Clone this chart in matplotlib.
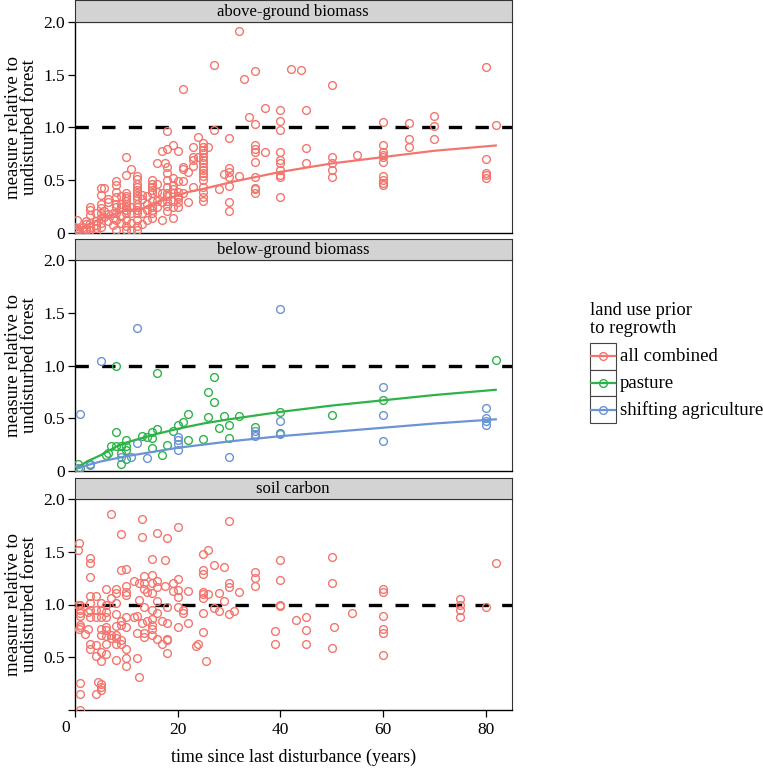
import matplotlib
matplotlib.use("Agg")
import matplotlib.pyplot as plt
import matplotlib.transforms as mtransforms
from matplotlib.patches import Rectangle
from matplotlib.lines import Line2D

plt.rcParams['font.family'] = ['Liberation Serif', 'DejaVu Serif']

RED = '#F2766E'
GREEN = '#2DB34A'
BLUE = '#6C93D3'

panel_titles = ['above-ground biomass', 'below-ground biomass', 'soil carbon']
legend_title = ['land use prior', 'to regrowth']
legend_labels = ['all combined', 'pasture', 'shifting agriculture']
x_ticks = [0, 20, 40, 60, 80]
y_ticks = [0, 0.5, 1.0, 1.5, 2.0]
y_ticklabels = ['0', '0.5', '1.0', '1.5', '2.0']

# ---------------- above-ground biomass (all combined) ----------------
ag_groups = [
    (0.4, [0.13, 0.03, 0.02, 0.05, 0.01, 0.04]),
    (1.5, [0.03, 0.06, 0.02]),
    (2.2, [0.09, 0.04, 0.02, 0.12]),
    (3.0, [0.17, 0.25, 0.06, 0.03, 0.10, 0.22]),
    (4.0, [0.19, 0.12, 0.0, 0.05, 0.08]),
    (5.0, [0.43, 0.36, 0.24, 0.19, 0.14, 0.06, 0.10, 0.28]),
    (5.6, [0.43, 0.15, 0.21]),
    (6.5, [0.32, 0.30, 0.12, 0.18]),
    (7.5, [0.19, 0.08, 0.14]),
    (8.0, [0.39, 0.49, 0.46, 0.25, 0.19, 0.13, 0.03, 0.28, 0.34]),
    (9.0, [0.35, 0.28, 0.25, 0.16, 0.10]),
    (10.0, [0.72, 0.55, 0.38, 0.35, 0.31, 0.28, 0.25, 0.22, 0.13, 0.03, 0.19, 0.07, 0.33]),
    (11.0, [0.61, 0.25, 0.19, 0.03, 0.10]),
    (12.0, [0.54, 0.51, 0.47, 0.44, 0.41, 0.38, 0.35, 0.32, 0.25, 0.19, 0.13, 0.03, 0.28, 0.07, 0.22]),
    (13.0, [0.32, 0.19, 0.09, 0.36]),
    (14.0, [0.28, 0.13, 0.22, 0.35]),
    (15.0, [0.50, 0.47, 0.44, 0.38, 0.31, 0.25, 0.19, 0.14, 0.41, 0.22]),
    (16.0, [0.47, 0.39, 0.31, 0.66, 0.25]),
    (17.0, [0.78, 0.38, 0.13, 0.30]),
    (17.5, [0.66]),
    (18.0, [0.97, 0.80, 0.63, 0.57, 0.50, 0.44, 0.38, 0.31, 0.26, 0.21, 0.35]),
    (19.0, [0.83, 0.52, 0.46, 0.38, 0.31, 0.25, 0.14, 0.42]),
    (20.0, [0.78, 0.49, 0.39, 0.35, 0.30, 0.25, 0.33]),
    (21.0, [0.63, 0.61, 0.49, 0.38, 1.36]),
    (22.0, [0.58, 0.30]),
    (23.0, [0.82, 0.72, 0.69, 0.64, 0.44]),
    (24.0, [0.91, 0.72]),
    (25.0, [0.85, 0.82, 0.79, 0.76, 0.72, 0.69, 0.66, 0.63, 0.60, 0.57, 0.54, 0.50, 0.44, 0.39, 0.34, 0.31]),
    (26.0, [0.82]),
    (27.0, [0.98, 1.59]),
    (28.0, [0.42]),
    (29.0, [0.56]),
    (30.0, [0.90, 0.62, 0.58, 0.53, 0.45, 0.30, 0.21]),
    (32.0, [1.91, 0.54]),
    (33.0, [1.46]),
    (34.0, [1.10]),
    (35.0, [1.53, 1.03, 0.83, 0.80, 0.77, 0.67, 0.53, 0.43, 0.42, 0.38]),
    (37.0, [1.18, 0.77]),
    (40.0, [1.17, 1.06, 0.98, 0.77, 0.69, 0.66, 0.60, 0.55, 0.53, 0.34]),
    (42.0, [1.55]),
    (44.0, [1.54]),
    (45.0, [1.17, 0.81, 0.66]),
    (50.0, [1.40, 0.72, 0.66, 0.60, 0.53]),
    (55.0, [0.74]),
    (60.0, [1.05, 0.83, 0.77, 0.74, 0.72, 0.67, 0.54, 0.50, 0.48, 0.46]),
    (65.0, [1.04, 0.89, 0.82]),
    (70.0, [1.11, 1.01, 0.89]),
    (80.0, [1.57, 0.70, 0.57, 0.55, 0.52]),
    (82.0, [1.02]),
]
ag_x = [x for x, ys in ag_groups for _ in ys]
ag_y = [y for _, ys in ag_groups for y in ys]
ag_fit_x = [0.5, 5, 10, 13, 15, 20, 22, 25, 31, 40, 50, 60, 70, 82]
ag_fit_y = [0.03, 0.14, 0.22, 0.23, 0.28, 0.36, 0.39, 0.42, 0.49, 0.58, 0.66, 0.72, 0.78, 0.83]

# ---------------- below-ground biomass ----------------
bg_past_x = [0.5, 1, 3, 8, 16, 27, 26, 27, 82, 8, 6, 6.5, 7, 8, 9, 9, 9, 10, 10, 10, 10,
             13, 14, 15, 15, 15, 16, 17, 18, 19, 20, 21, 22, 22, 25, 26, 28, 29, 30, 30,
             32, 35, 40, 40, 50, 60]
bg_past_y = [0.07, 0.03, 0.07, 1.00, 0.93, 0.89, 0.75, 0.65, 1.05, 0.37, 0.15, 0.17, 0.24, 0.24,
             0.24, 0.17, 0.07, 0.29, 0.24, 0.20, 0.11, 0.33, 0.32, 0.37, 0.31, 0.22, 0.40, 0.15,
             0.25, 0.38, 0.44, 0.46, 0.54, 0.29, 0.30, 0.51, 0.41, 0.52, 0.44, 0.31, 0.52, 0.42,
             0.56, 0.36, 0.53, 0.67]
bg_shift_x = [1, 5, 12, 40, 12, 11, 14, 9, 20, 20, 20, 20, 30, 35, 35, 35, 40, 40,
              60, 60, 60, 80, 80, 80, 80, 0.5, 3]
bg_shift_y = [0.54, 1.04, 1.36, 1.54, 0.27, 0.13, 0.12, 0.13, 0.32, 0.29, 0.26, 0.20, 0.13,
              0.38, 0.35, 0.33, 0.47, 0.35, 0.80, 0.53, 0.28, 0.60, 0.50, 0.47, 0.44, 0.03, 0.06]
bg_past_fit_x = [0.5, 2.3, 5, 8, 10, 15, 20, 25, 30, 40, 50, 60, 70, 82]
bg_past_fit_y = [0.03, 0.09, 0.15, 0.23, 0.27, 0.34, 0.40, 0.45, 0.49, 0.56, 0.62, 0.67, 0.72, 0.77]
bg_shift_fit_x = [0.5, 5, 10, 15, 20, 30, 40, 50, 60, 70, 82]
bg_shift_fit_y = [0.03, 0.09, 0.14, 0.18, 0.22, 0.28, 0.33, 0.37, 0.41, 0.45, 0.49]

# ---------------- soil carbon ----------------
sc_groups = [
    (0.5, [1.52, 1.00]),
    (0.7, [0.77]),
    (0.8, [1.58]),
    (1.0, [1.00, 0.95, 0.92, 0.89, 0.81, 0.79, 0.26, 0.15, 0.00]),
    (2.0, [0.72]),
    (2.5, [0.93, 0.77]),
    (3.0, [1.44, 1.39, 1.26, 1.08, 1.01, 0.95, 0.88, 0.63, 0.58]),
    (4.0, [1.08, 0.95, 0.88, 0.62, 0.51, 0.15]),
    (4.5, [0.27]),
    (5.0, [1.01, 0.95, 0.88, 0.77, 0.71, 0.55, 0.46, 0.25, 0.22, 0.19]),
    (6.0, [1.15, 1.00, 0.93, 0.88, 0.79, 0.76, 0.70, 0.63, 0.53]),
    (7.0, [1.86, 0.71, 0.68, 1.06]),
    (8.0, [1.15, 1.11, 1.01, 0.91, 0.80, 0.71, 0.68, 0.63, 0.47]),
    (9.0, [1.67, 1.33, 0.84, 0.81, 0.66, 0.63]),
    (10.0, [1.34, 1.18, 1.12, 1.09, 0.88, 0.79, 0.58, 0.49, 0.42]),
    (11.5, [1.22, 0.88]),
    (12.0, [0.89, 0.73, 0.49]),
    (12.5, [1.20, 1.04, 0.31]),
    (13.0, [1.81, 1.64, 0.82]),
    (13.5, [1.27, 1.20, 1.15, 0.98, 0.73, 0.69]),
    (14.0, [1.12, 0.84]),
    (15.0, [1.43, 1.28, 1.20, 1.11, 0.95, 0.86, 0.81, 0.77, 0.71]),
    (16.0, [1.68, 1.22, 1.17, 1.03, 0.92, 0.67]),
    (17.0, [0.84, 0.63]),
    (17.5, [1.18, 1.42]),
    (18.0, [1.63, 0.98, 0.82, 0.67, 0.66, 0.54]),
    (19.0, [1.20, 1.13]),
    (20.0, [1.73, 1.24, 1.14, 1.07, 0.98, 0.79]),
    (21.0, [0.95, 0.92]),
    (22.0, [1.13, 0.82]),
    (23.5, [0.61]),
    (24.0, [0.63]),
    (25.0, [1.48, 1.33, 1.29, 1.12, 1.10, 1.06, 0.92, 0.74]),
    (25.5, [0.46]),
    (26.0, [1.52, 1.10]),
    (27.0, [1.37, 0.97]),
    (28.0, [0.94, 1.11]),
    (29.0, [1.36, 1.03]),
    (30.0, [1.79, 1.20, 1.17, 0.91]),
    (31.0, [0.94]),
    (32.0, [1.12]),
    (35.0, [1.31, 1.25, 1.18]),
    (39.0, [0.75, 0.63]),
    (40.0, [1.42, 1.23, 1.00, 0.99]),
    (43.0, [0.85]),
    (45.0, [0.88, 0.76, 0.63]),
    (50.0, [1.45, 1.20, 0.59]),
    (50.5, [0.79]),
    (54.0, [0.92]),
    (60.0, [1.15, 1.12, 0.89, 0.77, 0.73, 0.52]),
    (75.0, [1.05, 1.00, 0.95, 0.88]),
    (80.0, [0.98]),
    (82.0, [1.39]),
]
sc_x = [x for x, ys in sc_groups for _ in ys]
sc_y = [y for _, ys in sc_groups for y in ys]

# ---------------- figure ----------------
W, H = 763, 768
fig = plt.figure(figsize=(W / 100, H / 100), dpi=100)

left_px, right_px = 74.5, 511.7
panels_px = [(21.7, 233.3), (260.0, 471.0), (499.0, 710.0)]
strip_h = 21.5

TICK_FS = 12.5
mk = dict(marker='o', mfc='none', ms=5.6, mew=1.0, linestyle='none')

axes = []
for i, (top, bot) in enumerate(panels_px):
    ax = fig.add_axes([left_px / W, 1 - bot / H, (right_px - left_px) / W, (bot - top) / H])
    axes.append(ax)
    ax.set_xlim(-0.1, 85.1)
    ax.set_ylim(0, 2.0)
    ax.axhline(1.0, color='black', lw=2.4, dashes=(4, 4), zorder=1)
    for s in ['top', 'right']:
        ax.spines[s].set_color('#333333')
        ax.spines[s].set_linewidth(0.8)
    for s in ['left', 'bottom']:
        ax.spines[s].set_color('black')
        ax.spines[s].set_linewidth(1.0)
    ax.set_yticks(y_ticks)
    ax.set_yticklabels(y_ticklabels if i < 2 else [''] + y_ticklabels[1:])
    ax.set_xticks(x_ticks)
    ax.tick_params(axis='both', direction='out', length=5, width=0.9, color='black',
                   labelsize=TICK_FS, pad=2)
    ax.tick_params(axis='x', pad=4)
    if i < 2:
        ax.tick_params(axis='x', length=0, labelbottom=False)
    else:
        ax.set_xticklabels([''] + [str(t) for t in x_ticks[1:]])
        zero_tf = ax.get_xaxis_transform() + mtransforms.ScaledTranslation(
            -9 / 100, -10 / 100, fig.dpi_scale_trans)
        ax.text(0, 0, '0', transform=zero_tf, ha='center', va='top', fontsize=TICK_FS)
    ax.set_ylabel('measure relative to\nundisturbed forest', fontsize=13.5,
                  linespacing=0.95)
    ax.yaxis.set_label_coords(-0.083, 0.5)
    # strip
    sax = fig.add_axes([left_px / W, 1 - top / H, (right_px - left_px) / W, strip_h / H])
    sax.set_facecolor('#D3D3D3')
    sax.set_xticks([]); sax.set_yticks([])
    for s in sax.spines.values():
        s.set_color('#333333'); s.set_linewidth(0.8)
    sax.text(0.5, 0.45, panel_titles[i], ha='center', va='center', fontsize=12,
             transform=sax.transAxes)

axes[2].set_xlabel('time since last disturbance (years)', fontsize=13, labelpad=7)

# data
axes[0].plot(ag_x, ag_y, color=RED, zorder=3, **mk)
axes[0].plot(ag_fit_x, ag_fit_y, color=RED, lw=1.6, zorder=4)

axes[1].plot(bg_past_x, bg_past_y, color=GREEN, zorder=3, **mk)
axes[1].plot(bg_shift_x, bg_shift_y, color=BLUE, zorder=3, **mk)
axes[1].plot(bg_past_fit_x, bg_past_fit_y, color=GREEN, lw=1.6, zorder=4)
axes[1].plot(bg_shift_fit_x, bg_shift_fit_y, color=BLUE, lw=1.6, zorder=4)

axes[2].plot(sc_x, sc_y, color=RED, zorder=3, **mk)

# legend (drawn manually in pixel space)
lax = fig.add_axes([0, 0, 1, 1], facecolor='none')
lax.set_xlim(0, W); lax.set_ylim(H, 0); lax.axis('off')
lax.text(590, 315, legend_title[0], ha='left', va='baseline', fontsize=13.3)
lax.text(590, 333, legend_title[1], ha='left', va='baseline', fontsize=13.3)
colors = [RED, GREEN, BLUE]
row_top = 343
row_h = 26.7
for k, (lab, c) in enumerate(zip(legend_labels, colors)):
    y0 = row_top + k * row_h
    lax.add_patch(Rectangle((589.5, y0), 26.5, row_h, facecolor='white', edgecolor='#444444', lw=0.8))
    yc = y0 + row_h / 2
    lax.add_line(Line2D([591, 614.5], [yc, yc], color=c, lw=1.6))
    lax.add_line(Line2D([602.7], [yc], color=c, **mk))
    lax.text(620, yc, lab, ha='left', va='center', fontsize=13.5)

fig.savefig('out.png', dpi=100)
